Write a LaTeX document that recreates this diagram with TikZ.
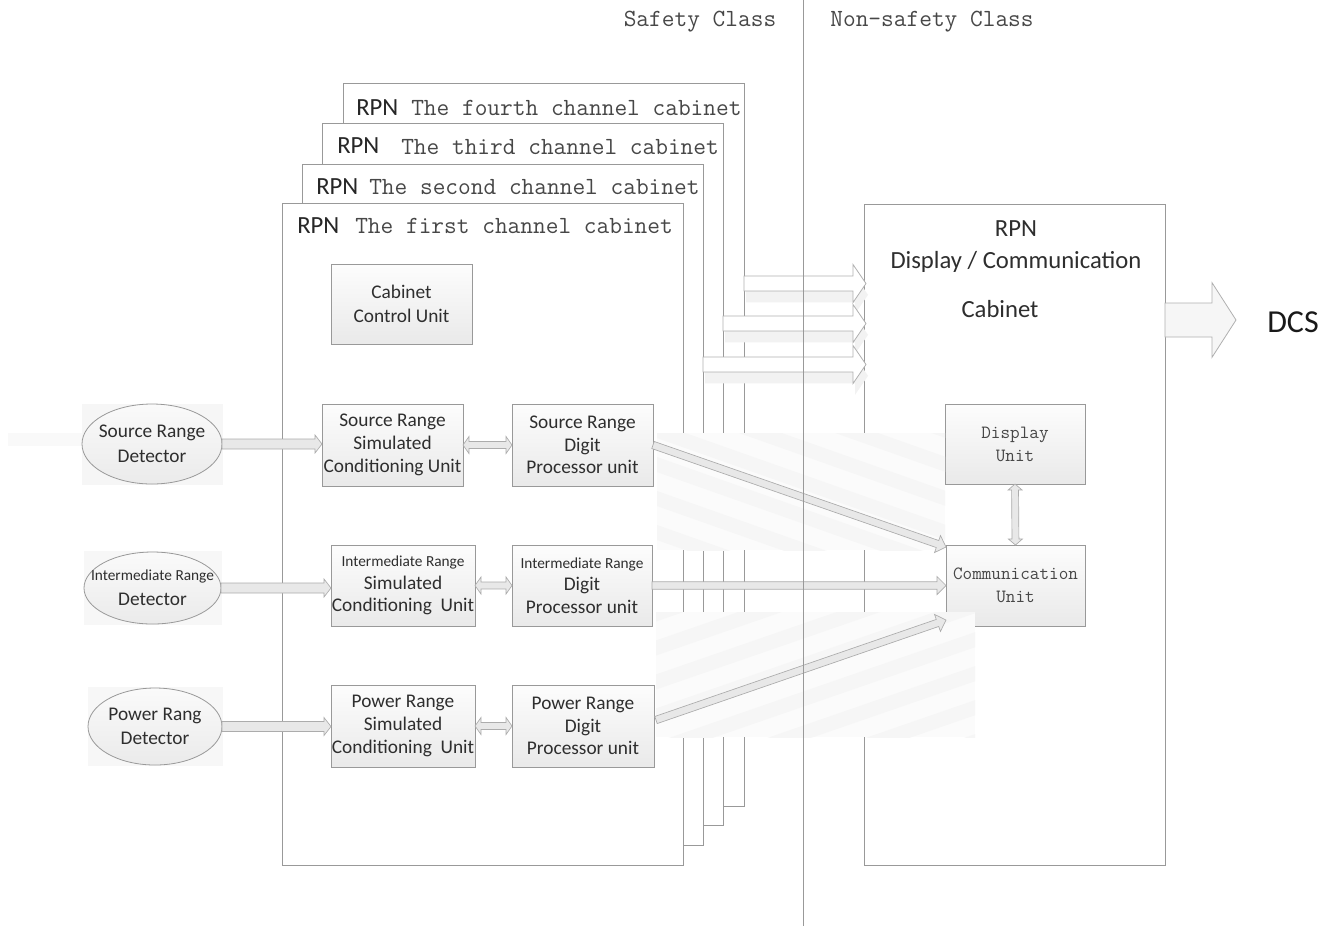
\documentclass[tikz,border=0pt]{standalone}
\usepackage{fontspec}
\newfontfamily\calib{Carlito}
\usetikzlibrary{calc,shapes.geometric}
\definecolor{ink}{gray}{0.18}
\definecolor{monoink}{gray}{0.28}
\definecolor{edge}{gray}{0.6}

\tikzset{
  sz/.style 2 args={minimum width=#1*0.75pt, minimum height=#2*0.75pt},
  cab/.style={draw=edge, line width=0.6pt, fill=white, inner sep=0pt, outer sep=0pt},
  unit/.style={draw=edge, line width=0.6pt, top color=gray!2, bottom color=gray!17,
    align=center, text=ink, inner sep=0pt, outer sep=0pt,
    font=\calib\fontsize{14.5}{17}\selectfont},
  unitm/.style={unit, text=monoink, font=\ttfamily\fontsize{14}{17.3}\selectfont},
  det/.style={ellipse, draw=edge, line width=0.6pt, top color=gray!4, bottom color=gray!16,
    inner sep=0pt, outer sep=0pt},
  dettext/.style={align=center, text=ink, font=\calib\fontsize{14.5}{18.5}\selectfont},
  rpn/.style={inner sep=0pt, text=black!85, font=\calib\fontsize{18.5}{22}\selectfont},
  mono/.style={inner sep=0pt, text=monoink, font=\ttfamily\fontsize{18.5}{21}\selectfont},
  big/.style={inner sep=0pt, text=ink, align=center, font=\calib\fontsize{18.5}{24}\selectfont},
  hol/.style={draw=gray!65, fill=gray!18, line width=0.5pt},
  block/.style={draw=gray!62, fill=white, line width=0.6pt},
  blockshadow/.style={fill=gray!10, draw=none},
  % single-headed outline arrow: shaft half width / head half width / head length
  onehead/.style args={#1/#2/#3}{to path={let \p1=(\tikztostart), \p2=(\tikztotarget),
      \p3=($(\p2)!#3!(\p1)$) in
      ($(\p1)!#1!90:(\p2)$) -- ($(\p3)!#1!-90:(\p1)$) -- ($(\p3)!#2!-90:(\p1)$) -- (\p2)
      -- ($(\p3)!#2!90:(\p1)$) -- ($(\p3)!#1!90:(\p1)$) -- ($(\p1)!#1!-90:(\p2)$) -- cycle}},
  % double-headed outline arrow
  twohead/.style args={#1/#2/#3}{to path={let \p1=(\tikztostart), \p2=(\tikztotarget),
      \p3=($(\p2)!#3!(\p1)$), \p4=($(\p1)!#3!(\p2)$) in
      (\p1) -- ($(\p4)!#2!90:(\p2)$) -- ($(\p4)!#1!90:(\p2)$) -- ($(\p3)!#1!-90:(\p1)$)
      -- ($(\p3)!#2!-90:(\p1)$) -- (\p2) -- ($(\p3)!#2!90:(\p1)$) -- ($(\p3)!#1!90:(\p1)$)
      -- ($(\p4)!#1!-90:(\p2)$) -- ($(\p4)!#2!-90:(\p2)$) -- cycle}},
}

\begin{document}
\begin{tikzpicture}[x=0.75pt, y=-0.75pt]
\useasboundingbox (0,0) rectangle (1323,926);

% soft grey backdrops behind the detectors
\fill[gray!5] (8,433) rectangle (86,446);
\fill[gray!7] (82,404) rectangle (223,485);
\fill[gray!6] (84,551) rectangle (222,625);
\fill[gray!6] (88,687) rectangle (223,766);

% channel cabinets, back to front
\node[cab, sz={401}{723}] (c4) at (543.5,444.5) {};
\node[cab, sz={401}{702}] (c3) at (522.5,474) {};
\node[cab, sz={401}{681}] (c2) at (502.5,504.5) {};
\node[cab, sz={401}{662}] (c1) at (482.5,534) {};

\node[rpn, anchor=base west] (c4r) at (356,115) {RPN};
\node[mono, anchor=base west] (c4t) at (411,115) {The fourth channel cabinet};
\node[rpn, anchor=base west] (c3r) at (337,153) {RPN};
\node[mono, anchor=base west] (c3t) at (401,154) {The third channel cabinet};
\node[rpn, anchor=base west] (c2r) at (316,194) {RPN};
\node[mono, anchor=base west] (c2t) at (369,194) {The second channel cabinet};
\node[rpn, anchor=base west] (c1r) at (297,233) {RPN};
\node[mono, anchor=base west] (c1t) at (355,233) {The first channel cabinet};

% display / communication cabinet
\node[cab, sz={301}{661}] (dc) at (1014.5,534.5) {};
\node[big] (dct) at (1016,247) {RPN\\Display / Communication};
\node[big] (dcc) at (1000,309) {Cabinet};

% units inside the first channel cabinet
\node[unit, sz={141}{80}, font=\calib\fontsize{14.5}{18}\selectfont] (ccu) at (401.5,304) {Cabinet\\Control Unit};
\node[unit, sz={141}{82}] (s1) at (392.5,445) {Source Range\\Simulated\\Conditioning Unit};
\node[unit, sz={141}{82}] (d1) at (582.5,445) {Source Range\\Digit\\Processor unit};
\node[unit, sz={144}{81}] (s2) at (403,585.5) {{\fontsize{11.5}{14}\selectfont Intermediate Range}\\Simulated\\Conditioning~~Unit};
\node[unit, sz={140}{81}] (d2) at (582,585.5) {{\fontsize{11.5}{14}\selectfont Intermediate Range}\\Digit\\Processor unit};
\node[unit, sz={144}{82}] (s3) at (403,726) {Power Range\\Simulated\\Conditioning~~Unit};
\node[unit, sz={142}{82}] (d3) at (583,726) {Power Range\\Digit\\Processor unit};

% units inside the display cabinet
\node[unitm, sz={140}{80}] (disp) at (1015,444) {Display\\Unit};
\node[unitm, sz={139}{81}] (comm) at (1015.5,585.5) {Communication\\Unit};

% detectors
\node[det, sz={140}{80}, label={[dettext]center:Source Range\\Detector}] (e1) at (152,444) {};
\node[det, sz={137}{72}, label={[dettext]center:{\fontsize{11.5}{14}\selectfont Intermediate Range}\\Detector}] (e2) at (152.5,588) {};
\node[det, sz={134}{77}, label={[dettext]center:Power Rang\\Detector}] (e3) at (155,726.5) {};

% streaked shadow areas behind the long signal arrows
\begin{scope}
  \clip (657,433) rectangle (945,550);
  \fill[gray!3] (657,433) rectangle (945,550);
  \foreach \k in {0,...,8}
    \fill[gray!7] (640,{315+\k*34}) -- (960,{315+\k*34+113}) -- (960,{330+\k*34+113}) -- (640,{330+\k*34}) -- cycle;
\end{scope}
\begin{scope}
  \clip (656,612) rectangle (975,737);
  \fill[gray!3] (656,612) rectangle (975,737);
  \foreach \k in {0,...,8}
    \fill[gray!7] (640,{612+\k*34}) -- (990,{612+\k*34-121}) -- (990,{627+\k*34-121}) -- (640,{627+\k*34}) -- cycle;
\end{scope}

% block arrows from the channel cabinets to the display cabinet
\coordinate (t4) at (866,283.5);
\coordinate (t3) at (866,323.5);
\coordinate (t2) at (866,364.5);
\path[blockshadow, transform canvas={shift={(1.5pt,-8.5pt)}}, onehead=5.6pt/14.25pt/9.75pt] (c4.east |- t4) to (t4);
\draw[block, onehead=5.6pt/14.25pt/9.75pt] (c4.east |- t4) to (t4);
\path[blockshadow, transform canvas={shift={(1.5pt,-8.5pt)}}, onehead=5.6pt/14.25pt/9.75pt] (c3.east |- t3) to (t3);
\draw[block, onehead=5.6pt/14.25pt/9.75pt] (c3.east |- t3) to (t3);
\path[blockshadow, transform canvas={shift={(1.5pt,-8.5pt)}}, onehead=5.6pt/14.25pt/9.75pt] (c2.east |- t2) to (t2);
\draw[block, onehead=5.6pt/14.25pt/9.75pt] (c2.east |- t2) to (t2);

% output arrow to DCS
\coordinate (dcst) at (1236,320);
\draw[block, fill=gray!7, onehead=12.75pt/28pt/18pt] (dc.east |- dcst) to (dcst);
\node[inner sep=0pt, text=black!90, font=\calib\fontsize{24}{28}\selectfont] (dcs) at (1293,322) {DCS};

% detector to conditioning unit
\draw[hol, onehead=3.75pt/6.75pt/5.25pt] (e1.east) to (e1.east -| s1.west);
\draw[hol, onehead=3.75pt/6.75pt/5.25pt] (e2.east) to (e2.east -| s2.west);
\draw[hol, onehead=3.75pt/6.75pt/5.25pt] (e3.east) to (e3.east -| s3.west);

% conditioning unit <-> digit processor
\draw[hol, twohead=2.6pt/6.4pt/4.5pt] (s1.east) to (d1.west);
\draw[hol, twohead=2.6pt/6.4pt/4.5pt] (s2.east) to (d2.west);
\draw[hol, twohead=2.6pt/6.4pt/4.5pt] (s3.east) to (d3.west);

% digit processors to communication unit
\coordinate (a1) at ($(comm.north west)+(0,2)$);
\coordinate (a3s) at ($(d3.east)+(2,-6)$);
\coordinate (a3) at ($(comm.south west)+(0,-6)$);
\draw[hol, onehead=2.8pt/6.75pt/6.75pt] (d1.east) to (a1);
\draw[hol, onehead=2.8pt/6.75pt/6.75pt] (d2.east) to (comm.west);
\draw[hol, onehead=2.8pt/6.75pt/6.75pt] (a3s) to (a3);

% display <-> communication
\draw[hol, twohead=2.6pt/5.25pt/4.5pt] (disp.south) to (comm.north);

% class divider
\coordinate (divtop) at (803,0);
\coordinate (divbot) at (803,926);
\draw[edge, line width=0.6pt] (divtop) -- (divbot);
\node[mono] (safe) at (700,22) {Safety Class};
\node[mono] (nons) at (932,22) {Non-safety Class};
\end{tikzpicture}
\end{document}
